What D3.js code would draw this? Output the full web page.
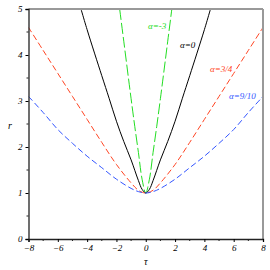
<!DOCTYPE html>
<html>
<head>
<meta charset="utf-8">
<script src="https://cdn.jsdelivr.net/npm/d3@7"></script>
<style>
  body { margin: 0; background: #fff; }
  svg { display: block; }
  .tick text { font-family: "Liberation Serif", "DejaVu Serif", serif; font-style: italic; font-size: 9px; }
</style>
</head>
<body>
<div id="chart"></div>
<script>
// values
const tauBlack = [-4.6, -4, -3, -2.5, -2, -1.5, -1, -0.5, -0.25, 0, 0.25, 0.5, 1, 1.5, 2, 2.5, 3, 4, 4.6];
const rBlack   = [5.2, 4.55, 3.55, 3.06, 2.56, 2.12, 1.72, 1.27, 1.08, 1.0, 1.08, 1.27, 1.72, 2.12, 2.56, 3.06, 3.55, 4.55, 5.2];

const tauGreen = [-1.9, -1.5, -1, -0.75, -0.5, -0.25, 0, 0.25, 0.5, 0.75, 1, 1.5, 1.9];
const rGreen   = [5.3, 4.3, 3.05, 2.45, 1.88, 1.3, 1.0, 1.3, 1.88, 2.45, 3.05, 4.3, 5.3];

const tauRed = [-8, -7, -6, -5, -4, -3, -2, -1, -0.5, 0, 0.5, 1, 2, 3, 4, 5, 6, 7, 8];
const rRed   = [4.6, 4.1, 3.6, 3.1, 2.6, 2.1, 1.62, 1.22, 1.06, 1.0, 1.06, 1.22, 1.62, 2.1, 2.6, 3.1, 3.6, 4.1, 4.6];

const tauBlue = [-8, -7, -6, -5, -4, -3, -2, -1, -0.5, 0, 0.5, 1, 2, 3, 4, 5, 6, 7, 8];
const rBlue   = [3.1, 2.75, 2.38, 2.08, 1.8, 1.55, 1.3, 1.1, 1.03, 1.0, 1.03, 1.1, 1.3, 1.55, 1.8, 2.08, 2.38, 2.75, 3.1];

const xTicks = [-8, -6, -4, -2, 0, 2, 4, 6, 8];
const xMinor = [-7, -5, -3, -1, 1, 3, 5, 7];
const yTicks = [0, 1, 2, 3, 4, 5];
const yMinor = [0.5, 1.5, 2.5, 3.5, 4.5];

const seriesLabels = ["α=-3", "α=0", "α=3/4", "α=9/10"];

const width = 270, height = 270;
const margin = { top: 9, right: 7, bottom: 31, left: 28.5 };

const svg = d3.select("#chart").append("svg")
    .attr("width", width)
    .attr("height", height);

const x = d3.scaleLinear().domain([-8, 8]).range([margin.left, width - margin.right]);
const y = d3.scaleLinear().domain([0, 5]).range([height - margin.bottom, margin.top]);

svg.append("clipPath").attr("id", "clip")
    .append("rect")
    .attr("x", x(-8)).attr("y", y(5))
    .attr("width", x(8) - x(-8)).attr("height", y(0) - y(5));

const line = d3.line()
    .x(d => x(d[0]))
    .y(d => y(d[1]))
    .curve(d3.curveCatmullRom.alpha(0.5));

const series = [
    { tau: tauGreen, r: rGreen, color: "#22dd22", dash: "11,3", label: seriesLabels[0], lx: 148, ly: 29 },
    { tau: tauBlack, r: rBlack, color: "#000000", dash: null, label: seriesLabels[1], lx: 180, ly: 48 },
    { tau: tauRed, r: rRed, color: "#ff4422", dash: "6,3", label: seriesLabels[2], lx: 210, ly: 72 },
    { tau: tauBlue, r: rBlue, color: "#3355ff", dash: "6,3", label: seriesLabels[3], lx: 229, ly: 99 }
];

const plot = svg.append("g").attr("clip-path", "url(#clip)");
series.forEach(s => {
    plot.append("path")
        .datum(d3.zip(s.tau, s.r))
        .attr("fill", "none")
        .attr("stroke", s.color)
        .attr("stroke-width", 1)
        .attr("stroke-dasharray", s.dash)
        .attr("d", line);
});

// frame: top and right in gray
svg.append("line")
    .attr("x1", x(-8)).attr("x2", x(8))
    .attr("y1", y(5)).attr("y2", y(5))
    .attr("stroke", "#999").attr("stroke-width", 2);
svg.append("line")
    .attr("x1", x(8)).attr("x2", x(8))
    .attr("y1", y(5)).attr("y2", y(0))
    .attr("stroke", "#999").attr("stroke-width", 2);

const fmt = d => d < 0 ? "\u2212" + Math.abs(d) : String(d);

const xAxis = svg.append("g")
    .attr("transform", `translate(0,${y(0)})`)
    .call(d3.axisBottom(x).tickValues(xTicks).tickFormat(fmt).tickSize(3).tickPadding(3));
xAxis.select(".domain").attr("stroke", "#222").attr("stroke-width", 1.3);
xAxis.selectAll(".minor").data(xMinor).enter().append("line")
    .attr("x1", d => x(d)).attr("x2", d => x(d))
    .attr("y1", 0).attr("y2", 2)
    .attr("stroke", "#222");

const yAxis = svg.append("g")
    .attr("transform", `translate(${x(-8)},0)`)
    .call(d3.axisLeft(y).tickValues(yTicks).tickFormat(fmt).tickSize(3).tickPadding(3));
yAxis.select(".domain").attr("stroke", "#222").attr("stroke-width", 1.3);
yAxis.selectAll(".minor").data(yMinor).enter().append("line")
    .attr("x1", 0).attr("x2", -2)
    .attr("y1", d => y(d)).attr("y2", d => y(d))
    .attr("stroke", "#222");

svg.append("text")
    .attr("x", 8).attr("y", 129)
    .attr("font-family", "Liberation Serif, serif")
    .attr("font-style", "italic")
    .attr("font-size", 10)
    .text("r");

svg.append("text")
    .attr("x", x(0)).attr("y", 265)
    .attr("text-anchor", "middle")
    .attr("font-family", "Liberation Serif, serif")
    .attr("font-style", "italic")
    .attr("font-size", 10)
    .text("τ");

series.forEach(s => {
    svg.append("text")
        .attr("x", s.lx).attr("y", s.ly)
        .attr("fill", s.color)
        .attr("font-family", "Liberation Serif, serif")
        .attr("font-style", "italic")
        .attr("font-size", 9)
        .text(s.label);
});
</script>
</body>
</html>
